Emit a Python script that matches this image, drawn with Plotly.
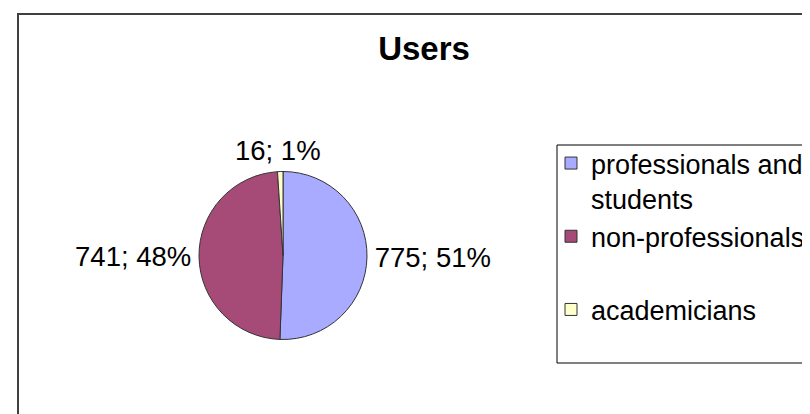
import plotly.graph_objects as go

categories = ["professionals and students", "non-professionals", "academicians"]
legend_labels = ["professionals and<br>students", "non-professionals<br> ", "academicians<br> "]
values = [775, 741, 16]
colors = ["#A8ABFF", "#A64B78", "#FFFFCC"]

W, H = 810, 414

def px_x(x):
    return x / W

def px_y(y):
    return 1 - y / H

FONT = "Liberation Sans, Arial, sans-serif"
cx, cy, r = 275, 247.5, 84

total = sum(values)
label_texts = [f"{v}; {round(100 * v / total)}%" for v in values]
# small top slice label is placed centred above the pie (as in the original)
slice_texts = [label_texts[0], label_texts[1], ""]

fig = go.Figure()
fig.add_trace(go.Pie(
    labels=legend_labels,
    values=values,
    sort=False,
    direction="clockwise",
    rotation=0,
    marker=dict(colors=colors, line=dict(color="#333333", width=1)),
    text=slice_texts,
    texttemplate="%{text}",
    textposition="outside",
    textfont=dict(family=FONT, size=27.5, color="black"),
    domain=dict(x=[px_x(cx - r), px_x(cx + r)], y=[px_y(cy + r), px_y(cy - r)]),
    hoverinfo="label+value+percent",
))

fig.add_annotation(
    text=label_texts[2], xref="paper", yref="paper",
    x=px_x(cx - 5), y=px_y(cy - r - 21), xanchor="center", yanchor="middle",
    showarrow=False, font=dict(family=FONT, size=27.5, color="black"),
)

fig.update_layout(
    width=W, height=H,
    margin=dict(l=0, r=0, t=0, b=0, autoexpand=False),
    paper_bgcolor="white",
    plot_bgcolor="white",
    title=dict(
        text="<b>Users</b>",
        x=px_x(416), y=px_y(40), xanchor="center", yanchor="middle",
        font=dict(family=FONT, size=33, color="black"),
    ),
    showlegend=True,
    legend=dict(
        x=px_x(543), y=px_y(131), xanchor="left", yanchor="top",
        bgcolor="rgba(0,0,0,0)", borderwidth=0,
        font=dict(family=FONT, size=27, color="black"),
        valign="top",
        itemwidth=30,
    ),
    shapes=[
        dict(type="rect", xref="paper", yref="paper",
             x0=px_x(10), x1=1.2, y0=-0.2, y1=px_y(6),
             line=dict(color="#404040", width=2), fillcolor="rgba(0,0,0,0)"),
        dict(type="rect", xref="paper", yref="paper",
             x0=px_x(549), x1=1.2, y0=px_y(355), y1=px_y(137),
             line=dict(color="black", width=1), fillcolor="rgba(0,0,0,0)"),
    ],
)

fig.write_html("out.html")
